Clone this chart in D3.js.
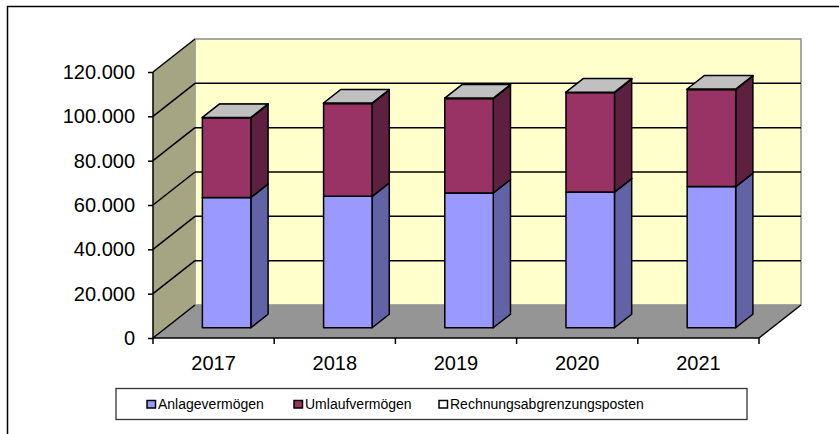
<!DOCTYPE html>
<html lang="de">
<head>
<meta charset="utf-8">
<title>Bilanz Aktiva</title>
<script src="https://d3js.org/d3.v7.min.js"></script>
<style>
  body { margin: 0; background: #fff; }
  svg { display: block; font-family: "Liberation Sans", Arial, sans-serif; }
</style>
</head>
<body>
<div id="chart"></div>
<script>
// Werte (in EUR)
var years = ["2017", "2018", "2019", "2020", "2021"];
var anlagevermoegen = [58800, 59300, 60800, 61200, 63700];
var umlaufvermoegen = [35900, 41900, 42600, 44900, 43800];
var rechnungsabgrenzung = [200, 200, 200, 200, 200];
var seriesNames = ["Anlagevermögen", "Umlaufvermögen", "Rechnungsabgrenzungsposten"];
var yTicks = [0, 20000, 40000, 60000, 80000, 100000, 120000];

// Farben: Vorderseite, Seite, Oberseite
var colours = [
  { front: "#9999ff", side: "#6262a6", top: "#c4c4ff" },
  { front: "#993366", side: "#5e2040", top: "#c48aa6" },
  { front: "#ffffff", side: "#a0a0a0", top: "#c0c0c0" }
];

var width = 839, height = 434;
var plotLeft = 153, plotRight = 759, plotTop = 72, plotBottom = 338;
var depthX = 42, depthY = -33;      // Tiefe der 3D Wände
var z0 = 0.31, z1 = 0.72;           // Lage der Säulen in der Tiefe

var svg = d3.select("#chart").append("svg")
  .attr("width", width)
  .attr("height", height);

// Rahmen (nur oben und links sichtbar)
svg.append("path")
  .attr("d", "M7.5,434 V6.5 H839")
  .attr("fill", "none")
  .attr("stroke", "#000")
  .attr("stroke-width", 1.5);

var xScale = d3.scaleBand().domain(years).range([plotLeft, plotRight]).padding(0);
var yScale = d3.scaleLinear().domain([0, 120000]).range([plotBottom, plotTop]);

function pt(x, y, z) {
  return [x + depthX * z, y + depthY * z];
}
function poly(points) {
  return "M" + points.map(function(p){ return p[0] + "," + p[1]; }).join("L") + "Z";
}

// Rückwand
svg.append("path")
  .attr("d", poly([pt(plotLeft, plotTop, 1), pt(plotRight, plotTop, 1), pt(plotRight, plotBottom, 1), pt(plotLeft, plotBottom, 1)]))
  .attr("fill", "#ffffcc")
  .attr("stroke", "#8a8a8a")
  .attr("stroke-width", 1.5);

// linke Seitenwand
svg.append("path")
  .attr("d", poly([pt(plotLeft, plotBottom, 0), pt(plotLeft, plotTop, 0), pt(plotLeft, plotTop, 1), pt(plotLeft, plotBottom, 1)]))
  .attr("fill", "#a5a583");

// Boden
svg.append("path")
  .attr("d", poly([pt(plotLeft, plotBottom, 0), pt(plotRight, plotBottom, 0), pt(plotRight, plotBottom, 1), pt(plotLeft, plotBottom, 1)]))
  .attr("fill", "#959595");

// Gitternetzlinien auf Rückwand und Seitenwand
yTicks.forEach(function(t){
  var y = yScale(t);
  if (t > 0 && t < 120000) {
    svg.append("line")
      .attr("x1", pt(plotLeft, y, 1)[0]).attr("y1", pt(plotLeft, y, 1)[1])
      .attr("x2", pt(plotRight, y, 1)[0]).attr("y2", pt(plotRight, y, 1)[1])
      .attr("stroke", "#000").attr("stroke-width", 1.5);
  }
  svg.append("line")
    .attr("x1", plotLeft).attr("y1", y)
    .attr("x2", pt(plotLeft, y, 1)[0]).attr("y2", pt(plotLeft, y, 1)[1])
    .attr("stroke", "#000").attr("stroke-width", 1.5);
});

// rechte Bodenkante
svg.append("line")
  .attr("x1", plotRight).attr("y1", plotBottom)
  .attr("x2", pt(plotRight, plotBottom, 1)[0]).attr("y2", pt(plotRight, plotBottom, 1)[1])
  .attr("stroke", "#000").attr("stroke-width", 1.5);

// Daten stapeln
var table = years.map(function(y, i){
  return { year: y, a: anlagevermoegen[i], u: umlaufvermoegen[i], r: rechnungsabgrenzung[i] };
});
var stacked = d3.stack().keys(["a", "u", "r"])(table);

var barW = xScale.bandwidth() * 0.4;

years.forEach(function(yr, i){
  var x0 = xScale(yr) + (xScale.bandwidth() - barW) / 2;
  var x1 = x0 + barW;
  stacked.forEach(function(layer, k){
    var lo = yScale(layer[i][0]), hi = yScale(layer[i][1]);
    var c = colours[k];
    // Seite
    svg.append("path")
      .attr("d", poly([pt(x1, lo, z0), pt(x1, hi, z0), pt(x1, hi, z1), pt(x1, lo, z1)]))
      .attr("fill", c.side).attr("stroke", "#000").attr("stroke-width", 1.5)
      .attr("stroke-linejoin", "round");
    // Vorderseite
    svg.append("path")
      .attr("d", poly([pt(x0, lo, z0), pt(x1, lo, z0), pt(x1, hi, z0), pt(x0, hi, z0)]))
      .attr("fill", c.front).attr("stroke", "#000").attr("stroke-width", 1.5)
      .attr("stroke-linejoin", "round");
    // Oberseite
    svg.append("path")
      .attr("d", poly([pt(x0, hi, z0), pt(x1, hi, z0), pt(x1, hi, z1), pt(x0, hi, z1)]))
      .attr("fill", c.top).attr("stroke", "#000").attr("stroke-width", 1.5)
      .attr("stroke-linejoin", "round");
  });
});

// Y-Achse
var fmt = function(d){ return d3.format(",")(d).replace(/,/g, "."); };
var yAxis = d3.axisLeft(yScale).tickValues(yTicks).tickFormat(fmt).tickSize(5).tickPadding(13);
var gy = svg.append("g").attr("transform", "translate(" + plotLeft + ",0)").call(yAxis);
gy.select(".domain").attr("stroke-width", 1.5).attr("d", "M0," + plotTop + "V" + plotBottom);
gy.selectAll(".tick line").attr("stroke-width", 1.5);
gy.selectAll("text").attr("font-size", "20px").attr("fill", "#000")
  .attr("font-family", "Liberation Sans, Arial, sans-serif");

// X-Achse
var xAxis = d3.axisBottom(xScale).tickSize(0).tickPadding(18);
var gx = svg.append("g").attr("transform", "translate(0," + plotBottom + ")").call(xAxis);
gx.select(".domain").attr("stroke-width", 1.5).attr("d", "M" + plotLeft + ",0H" + plotRight);
gx.selectAll("text").attr("font-size", "20px").attr("fill", "#000")
  .attr("font-family", "Liberation Sans, Arial, sans-serif");
// Teilstriche zwischen den Kategorien
var bounds = years.map(function(y){ return xScale(y); }).concat([plotRight]);
gx.selectAll(".sep").data(bounds).enter().append("line")
  .attr("x1", function(d){ return d; }).attr("x2", function(d){ return d; })
  .attr("y1", 0).attr("y2", 6)
  .attr("stroke", "#000").attr("stroke-width", 1.5);

// Legende
var lg = svg.append("g");
lg.append("rect")
  .attr("x", 116).attr("y", 388.5).attr("width", 631).attr("height", 31)
  .attr("fill", "#fff").attr("stroke", "#333").attr("stroke-width", 1.3);
var legendX = [147, 294, 439];
seriesNames.forEach(function(name, k){
  lg.append("rect")
    .attr("x", legendX[k]).attr("y", 400.5).attr("width", 8.5).attr("height", 7.5)
    .attr("fill", colours[k].front).attr("stroke", "#000").attr("stroke-width", 1.5);
  lg.append("text")
    .attr("x", legendX[k] + 11).attr("y", 408.5)
    .attr("font-size", "14px")
    .text(name);
});
</script>
</body>
</html>
